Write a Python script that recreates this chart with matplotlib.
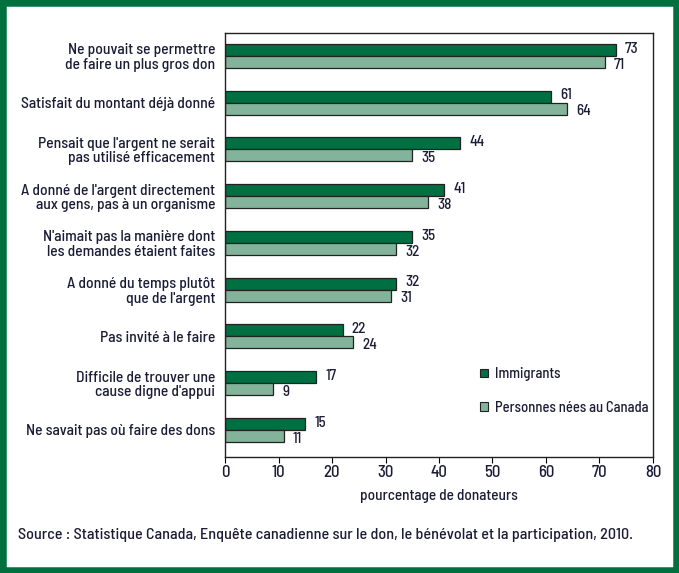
import matplotlib.pyplot as plt
import matplotlib.font_manager as fm
from matplotlib.patches import Rectangle, Patch
import numpy as np

# data
categories = [
    "Ne pouvait se permettre\nde faire un plus gros don",
    "Satisfait du montant déjà donné",
    "Pensait que l'argent ne serait\npas utilisé efficacement",
    "A donné de l'argent directement\naux gens, pas à un organisme",
    "N'aimait pas la manière dont\nles demandes étaient faites",
    "A donné du temps plutôt\nque de l'argent",
    "Pas invité à le faire",
    "Difficile de trouver une\ncause digne d'appui",
    "Ne savait pas où faire des dons",
]
immigrants = [73, 61, 44, 41, 35, 32, 22, 17, 15]
canada = [71, 64, 35, 38, 32, 31, 24, 9, 11]
series_names = ["Immigrants", "Personnes nées au Canada"]
xticks = [0, 10, 20, 30, 40, 50, 60, 70, 80]

dark = "#006f42"
light = "#84b39b"
txt = "#1c1c36"

names = {f.name for f in fm.fontManager.ttflist}
fam = "DejaVu Sans"
for cand in ["Barlow Semi Condensed", "Barlow Condensed", "Archivo Narrow", "Asap Condensed"]:
    if cand in names:
        fam = cand
        break
plt.rcParams["font.family"] = [fam, "DejaVu Sans"]
plt.rcParams["font.weight"] = 500
plt.rcParams["axes.labelweight"] = 500

fig = plt.figure(figsize=(6.79, 5.73), dpi=100)
ax = fig.add_axes([225 / 679, 1 - 457 / 573, 428 / 679, 424 / 573])

y = np.arange(len(categories))
h = 0.256
ax.barh(y - h / 2, immigrants, height=h, color=dark, edgecolor="#222222", linewidth=0.9)
ax.barh(y + h / 2, canada, height=h, color=light, edgecolor="#222222", linewidth=0.9)

for i in range(len(categories)):
    ax.text(immigrants[i] + 1.7, y[i] - h / 2 - 0.03, str(immigrants[i]), va="center", ha="left",
            fontsize=10.8, color=txt)
    ax.text(canada[i] + 1.7, y[i] + h / 2 + 0.06, str(canada[i]), va="center", ha="left",
            fontsize=10.8, color=txt)

ax.set_xlim(0, 80)
ax.set_ylim(8.58, -0.49)
ax.set_xticks(xticks)
ax.set_xticklabels([str(v) for v in xticks], fontsize=12, color=txt)
ax.set_yticks(y)
ax.set_yticklabels(categories, fontsize=11.2, color=txt, linespacing=1.05)
ax.tick_params(axis="y", length=0, pad=7)
ax.tick_params(axis="x", length=4, width=0.8, direction="out", pad=1.5)
for s in ax.spines.values():
    s.set_linewidth(1.0)
    s.set_color("#222222")

ax.set_xlabel("pourcentage de donateurs", fontsize=11, color=txt, labelpad=7)

handles = [Patch(facecolor=dark, edgecolor="#222222", linewidth=0.8),
           Patch(facecolor=light, edgecolor="#222222", linewidth=0.8)]
ax.legend(handles, series_names, loc="upper left", bbox_to_anchor=(0.565, 0.243),
          frameon=False, handlelength=0.55, handleheight=0.55, handletextpad=0.5,
          labelspacing=1.35, fontsize=10.5, labelcolor=txt)

fig.text(18 / 679, 1 - 535 / 573, "Source : Statistique Canada, Enquête canadienne sur le don, le bénévolat et la participation, 2010.",
         fontsize=11.55, color=txt, va="center", ha="left")

fig.patches.append(Rectangle((0, 0), 1, 1, transform=fig.transFigure, fill=False,
                             edgecolor="#00703f", linewidth=9))

fig.savefig("out.png", dpi=100)
